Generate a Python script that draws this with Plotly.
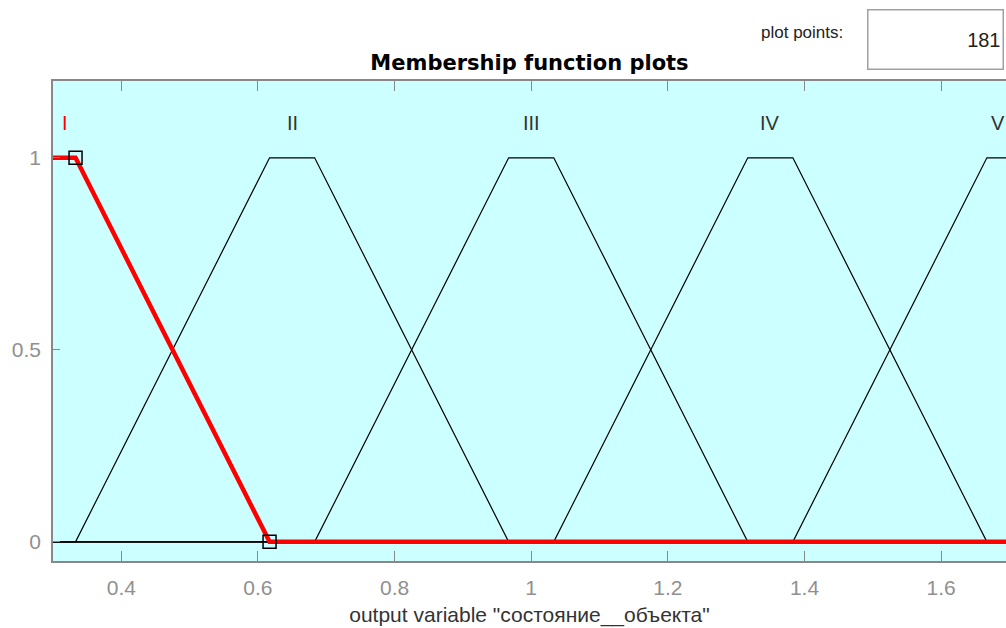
import plotly.graph_objects as go

# Membership function breakpoints (x, y)
mf_names = ["I", "II", "III", "IV", "V"]
mf_x = {
    "I":   [0.3, 0.333, 0.617, 1.7],
    "II":  [0.3, 0.333, 0.617, 0.683, 0.967, 1.7],
    "III": [0.3, 0.683, 0.967, 1.033, 1.317, 1.7],
    "IV":  [0.3, 1.033, 1.317, 1.383, 1.667, 1.7],
    "V":   [0.3, 1.383, 1.667, 1.7],
}
mf_y = {
    "I":   [1, 1, 0, 0],
    "II":  [0, 0, 1, 1, 0, 0],
    "III": [0, 0, 1, 1, 0, 0],
    "IV":  [0, 0, 1, 1, 0, 0],
    "V":   [0, 0, 1, 1],
}
label_x = [0.317, 0.65, 1.0, 1.35, 1.684]
label_y = 1.09
marker_x = [0.333, 0.617]
marker_y = [1, 0]
x_ticks = [0.4, 0.6, 0.8, 1.0, 1.2, 1.4, 1.6]
x_tick_text = ["0.4", "0.6", "0.8", "1", "1.2", "1.4", "1.6"]
y_ticks = [0, 0.5, 1]
y_tick_text = ["0", "0.5", "1"]
plot_points = "181"

FONT = "Liberation Sans, Arial"

fig = go.Figure()
for name in mf_names[1:]:
    fig.add_trace(go.Scatter(x=mf_x[name], y=mf_y[name], mode="lines",
                             line=dict(color="black", width=1.2),
                             showlegend=False, hoverinfo="skip"))
fig.add_trace(go.Scatter(x=mf_x["I"], y=mf_y["I"], mode="lines",
                         line=dict(color="#ff0000", width=4.5),
                         showlegend=False, hoverinfo="skip"))
fig.add_trace(go.Scatter(x=marker_x, y=marker_y, mode="markers",
                         marker=dict(symbol="square-open", size=13,
                                     color="black", line=dict(width=1.5)),
                         showlegend=False, hoverinfo="skip", cliponaxis=False))

for i, name in enumerate(mf_names):
    fig.add_annotation(x=label_x[i], y=label_y, text=name, showarrow=False,
                       xanchor="center", yanchor="middle",
                       font=dict(size=20, color="#ff0000" if i == 0 else "#333333",
                                 family=FONT))

fig.add_annotation(xref="paper", yref="paper", x=0.786, y=1.102, text="plot points:",
                   showarrow=False, xanchor="center", yanchor="middle",
                   font=dict(size=17, color="#222222", family=FONT))
fig.add_annotation(xref="paper", yref="paper", x=0.8545, y=1.15, text=plot_points,
                   showarrow=False, xanchor="left", yanchor="top",
                   width=130, height=54, align="right", valign="middle",
                   bgcolor="white", bordercolor="#a0a0a0", borderwidth=1.5, borderpad=2,
                   font=dict(size=20, color="#222222", family=FONT))

fig.update_layout(
    width=1006, height=628,
    margin=dict(l=53, r=0, t=81, b=67),
    paper_bgcolor="white",
    plot_bgcolor="#ccffff",
    title=dict(text="<b>Membership function plots</b>", x=0.5, xref="paper",
               y=1 - 63 / 628, yanchor="middle",
               font=dict(size=21, color="black", family="DejaVu Sans")),
    font=dict(family=FONT),
)
fig.update_xaxes(range=[0.3, 1.695], tickvals=x_ticks, ticktext=x_tick_text,
                 showgrid=False, zeroline=False, showline=True, linecolor="#888888",
                 linewidth=1.5, mirror="ticks", ticks="inside", ticklen=10,
                 tickcolor="#888888", tickwidth=1.2, ticklabelstandoff=7,
                 tickfont=dict(size=21, color="#909090"),
                 title=dict(text='output variable "состояние__объекта"', standoff=9,
                            font=dict(size=21, color="#333333")))
fig.update_yaxes(range=[-0.05, 1.2], tickvals=y_ticks, ticktext=y_tick_text,
                 showgrid=False, zeroline=False, showline=True, linecolor="#888888",
                 linewidth=1.5, mirror=False, ticks="inside", ticklen=7,
                 tickcolor="#888888", tickwidth=1.2, ticklabelstandoff=6,
                 tickfont=dict(size=21, color="#909090"))

fig.write_html("out.html", config={"displayModeBar": False},
               post_script="document.body.style.margin='0';document.body.style.overflow='hidden';")
